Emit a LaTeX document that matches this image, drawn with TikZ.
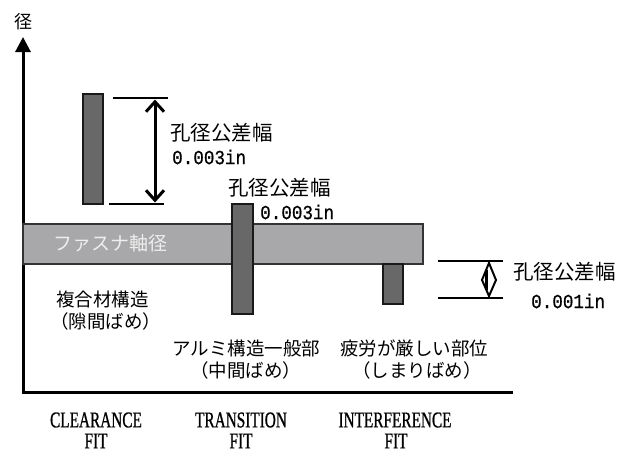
\documentclass[tikz,border=0pt]{standalone}
\usepackage{fontspec}
\usetikzlibrary{arrows.meta}
\newfontfamily\jpfont{Noto Sans CJK JP}
\newfontfamily\latinfit[FakeStretch=0.68,FakeBold=0.8]{Liberation Serif}
\newfontfamily\monofont[FakeStretch=0.88,FakeBold=0.7]{Liberation Mono}
\definecolor{bardark}{HTML}{686868}
\definecolor{shaftgray}{HTML}{A8A8AA}
\definecolor{shafttext}{HTML}{EEEEEE}
\tikzset{
  axisline/.style={line width=3pt},
  bar/.style={draw=black!90, fill=bardark, line width=1.5pt},
  shaft/.style={draw=black!80, fill=shaftgray, line width=1.5pt},
  dimline/.style={line width=1.6pt},
  jplab/.style={font=\jpfont\fontsize{18.5}{20}\selectfont, inner sep=0pt, anchor=west},
  tollab/.style={font=\jpfont\fontsize{20.5}{22}\selectfont, inner sep=0pt, anchor=west},
  numlab/.style={font=\monofont\fontsize{20}{21}\selectfont, inner sep=0pt, anchor=west},
  fitlab/.style={font=\latinfit\fontsize{22.5}{24}\selectfont, inner sep=0pt, align=center}
}
\begin{document}
\begin{tikzpicture}[x=1pt,y=-1pt]
\useasboundingbox (0,0) rectangle (630,453);
% axes
\coordinate (origin) at (23,392);
\coordinate (ytop) at (23,37);
\coordinate (xend) at (513,392);
\draw[axisline, -{Triangle[length=15pt,width=15pt]}] (origin) -- (ytop);
\draw[axisline] (21.5,392) -- (xend);
\node[font=\jpfont\fontsize{18}{20}\selectfont, inner sep=0pt] (ylab) at (23,22) {径};
% shaft
\draw[shaft] (23,224) rectangle (423,264);
\node[font=\jpfont\fontsize{19}{20}\selectfont, text=shafttext, inner sep=0pt, anchor=west] (shaftlab) at (53,243) {ファスナ軸径};
% bars
\draw[bar] (83,94) rectangle (103,204);
\draw[bar] (232,204) rectangle (253,314);
\draw[bar] (383,264) rectangle (403,304);
% clearance dimension
\coordinate (c1a) at (113,98); \coordinate (c1b) at (168,98);
\coordinate (c2a) at (109,204); \coordinate (c2b) at (164,204);
\draw[dimline] (c1a) -- (c1b);
\draw[dimline] (c2a) -- (c2b);
\coordinate (ct) at (155,99.5); \coordinate (cb) at (155,202.5);
\draw[line width=3pt, {Straight Barb[length=10pt,width=18pt]}-{Straight Barb[length=10pt,width=18pt]}] (ct) -- (cb);
\node[tollab] (tol1) at (170,133) {孔径公差幅};
\node[numlab] (num1) at (172,157) {0.003in};
% transition labels
\node[tollab] (tol2) at (228,188) {孔径公差幅};
\node[numlab] (num2) at (260,212) {0.003in};
% interference dimension
\coordinate (i1a) at (438,261); \coordinate (i1b) at (503,261);
\coordinate (i2a) at (438,298); \coordinate (i2b) at (503,298);
\draw[dimline] (i1a) -- (i1b);
\draw[dimline] (i2a) -- (i2b);
\draw[line width=2pt, line join=miter] (489,263) -- (496,280) -- (489,296) -- (482,280) -- cycle;
\draw[line width=2.4pt] (486.5,270) -- (486.5,290);
\node[tollab] (tol3) at (513,272) {孔径公差幅};
\node[numlab] (num3) at (531,301) {0.001in};
% descriptions
\node[jplab] (d1a) at (56,299) {複合材構造};
\node[jplab] (d1b) at (50,321) {（隙間ばめ）};
\node[jplab] (d2a) at (172,348) {アルミ構造一般部};
\node[jplab] (d2b) at (190,370) {（中間ばめ）};
\node[jplab] (d3a) at (340,348) {疲労が厳しい部位};
\node[jplab] (d3b) at (352,370) {（しまりばめ）};
% fit labels
\node[fitlab] (f1) at (96,420) {CLEARANCE};
\node[fitlab] (f1b) at (96,441) {FIT};
\node[fitlab] (f2) at (241,420) {TRANSITION};
\node[fitlab] (f2b) at (241,441) {FIT};
\node[fitlab] (f3) at (395,420) {INTERFERENCE};
\node[fitlab] (f3b) at (396,441) {FIT};
\end{tikzpicture}
\end{document}
